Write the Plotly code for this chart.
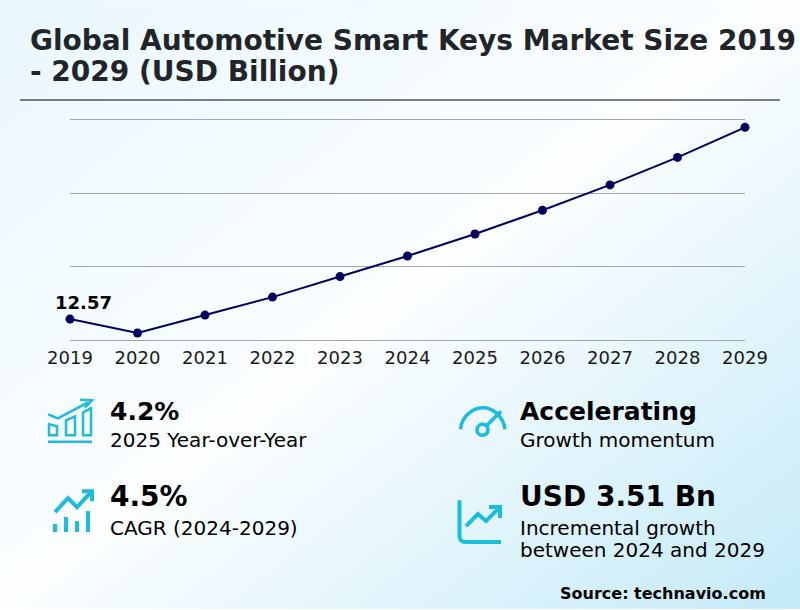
import base64
import plotly.graph_objects as go

years = [2019, 2020, 2021, 2022, 2023, 2024, 2025, 2026, 2027, 2028, 2029]
market_size = [12.57, 12.19, 12.68, 13.17, 13.73, 14.29, 14.89, 15.54, 16.23, 16.98, 17.80]
y_ticks = [12, 14, 16, 18]

source_text = "Source: technavio.com"
FONT = "DejaVu Sans"
W, H = 800, 610
L, R, T, B = 70, 55, 120, 269.5
PW, PH = W - L - R, H - T - B
ICON = "#1cbcdc"
GRID = "#a6a6a6"

svg = f'''<svg xmlns="http://www.w3.org/2000/svg" width="{W}" height="{H}">
<defs><linearGradient id="g" x1="0" y1="0" x2="1" y2="1">
<stop offset="0" stop-color="#e9f7fe"/><stop offset="0.5" stop-color="#fcfeff"/>
<stop offset="1" stop-color="#c4eaf8"/>
</linearGradient></defs><rect width="{W}" height="{H}" fill="url(#g)"/></svg>'''
bg = "data:image/svg+xml;base64," + base64.b64encode(svg.encode()).decode()


def px(x):
    return (x - L) / PW


def py(y):
    return (H - B - y) / PH


def pth(cmds):
    out = []
    for c in cmds:
        if isinstance(c, str):
            out.append(c)
        else:
            out.append(f"{px(c[0]):.5f},{py(c[1]):.5f}")
    return " ".join(out).replace("M ", "M").replace("L ", "L").replace("C ", "C")


def poly(pts, width=3, close=False):
    parts = []
    for i, p in enumerate(pts):
        parts += ["M" if i == 0 else "L", p]
    if close:
        parts.append("Z")
    return dict(type="path", xref="paper", yref="paper", path=pth(parts),
                line=dict(color=ICON, width=width), layer="above")


shapes = [
    dict(type="line", xref="paper", yref="paper", x0=px(20), x1=px(780), y0=py(100), y1=py(100),
         line=dict(color="#7a7f82", width=2)),
    # icon 1: bars and rising arrow
    poly([(48, 415), (58, 419), (88, 403)], 2.5),
    poly([(80, 400.5), (92, 401), (85, 408)], 2.5),
    poly([(49, 425), (57, 427), (57, 436), (49, 436)], 2.5, True),
    poly([(66, 421), (75, 417), (75, 436), (66, 436)], 2.5, True),
    poly([(83, 413), (91, 409), (91, 436), (83, 436)], 2.5, True),
    poly([(48, 442.5), (92, 442.5)], 2.5),
    # icon 2: zigzag arrow and sticks
    poly([(55, 513), (68, 499), (77, 508), (91, 493)], 4),
    poly([(82, 492), (92, 492), (92, 502)], 4),
    poly([(55, 525), (55, 533)], 4),
    poly([(66, 518), (66, 533)], 4),
    poly([(77, 522), (77, 533)], 4),
    poly([(88, 512), (88, 533)], 4),
    # icon 3: gauge
    dict(type="path", xref="paper", yref="paper", layer="above",
         line=dict(color=ICON, width=3.5),
         path=pth(["M", (460.5, 430), "C", (462, 415), (475, 408.5), (483, 408.5),
                   "C", (491, 408.5), (503, 415), (505, 430)])),
    dict(type="circle", xref="paper", yref="paper", layer="above",
         x0=px(477), x1=px(488), y0=py(436), y1=py(425),
         line=dict(color=ICON, width=3.5)),
    poly([(486, 427), (501, 412)], 3.5),
    # icon 4: axes and trend arrow
    dict(type="path", xref="paper", yref="paper", layer="above",
         line=dict(color=ICON, width=4),
         path=pth(["M", (459.5, 501), "L", (459.5, 536), "C", (459.5, 541), (461, 543), (466, 543),
                   "L", (501, 543)])),
    poly([(466, 527), (478, 515), (486, 522), (499, 509)], 4),
    poly([(489, 508), (500, 508), (500, 519)], 4),
]


def note(x, y, text, size, bold=False, color="#000000"):
    return dict(xref="paper", yref="paper", x=px(x), y=py(y), xanchor="left", yanchor="middle",
                showarrow=False, align="left", text=f"<b>{text}</b>" if bold else text,
                font=dict(family=FONT, size=size, color=color), borderpad=0, xshift=-1)


annotations = [
    note(30, 40.5, "Global Automotive Smart Keys Market Size 2019", 28, True, "#212529"),
    note(30, 71, "- 2029 (USD Billion)", 28, True, "#212529"),
    note(110, 412.5, "4.2%", 25, True),
    note(110, 440.5, "2025 Year-over-Year", 20),
    note(110, 497, "4.5%", 28, True),
    note(110, 528.5, "CAGR (2024-2029)", 20),
    note(520, 412.5, "Accelerating", 25, True),
    note(520, 440.5, "Growth momentum", 20),
    note(520, 497, "USD 3.51 Bn", 28, True),
    note(520, 528.5, "Incremental growth", 20),
    note(520, 551, "between 2024 and 2029", 20),
    note(560, 594.5, source_text, 16, True),
    dict(xref="x", yref="y", x=years[0], y=market_size[0], text=f"<b>{market_size[0]}</b>",
         showarrow=False, xanchor="center", yanchor="middle", xshift=13, yshift=17,
         font=dict(family=FONT, size=18, color="#000000")),
]

fig = go.Figure(go.Scatter(
    x=years, y=market_size, mode="lines+markers",
    line=dict(color="#000060", width=2), marker=dict(color="#000060", size=9),
    cliponaxis=False, hoverinfo="skip",
))
fig.update_layout(
    width=W, height=H, autosize=False, showlegend=False,
    margin=dict(l=L, r=R, t=T, b=B),
    paper_bgcolor="rgba(0,0,0,0)", plot_bgcolor="rgba(0,0,0,0)",
    font=dict(family=FONT),
    images=[dict(source=bg, xref="paper", yref="paper", x=px(0), y=py(0), sizex=W / PW, sizey=H / PH,
                 xanchor="left", yanchor="top", sizing="stretch", layer="below")],
    shapes=shapes, annotations=annotations,
    xaxis=dict(range=[2019, 2029], tickmode="array", tickvals=years, showgrid=False, zeroline=False,
               showline=True, mirror=True, linecolor=GRID, linewidth=1,
               ticks="outside", ticklen=1, tickwidth=1, tickcolor="rgba(0,0,0,0)",
               tickfont=dict(family=FONT, size=18, color="#1a1a1a")),
    yaxis=dict(range=[12, 18], tickmode="array", tickvals=y_ticks, showticklabels=False, zeroline=False,
               showgrid=True, gridcolor=GRID, gridwidth=1, showline=False, ticks=""),
)
fig.write_html("out.html", config=dict(displayModeBar=False),
               post_script="document.body.style.margin='0';document.body.style.overflow='hidden';")
